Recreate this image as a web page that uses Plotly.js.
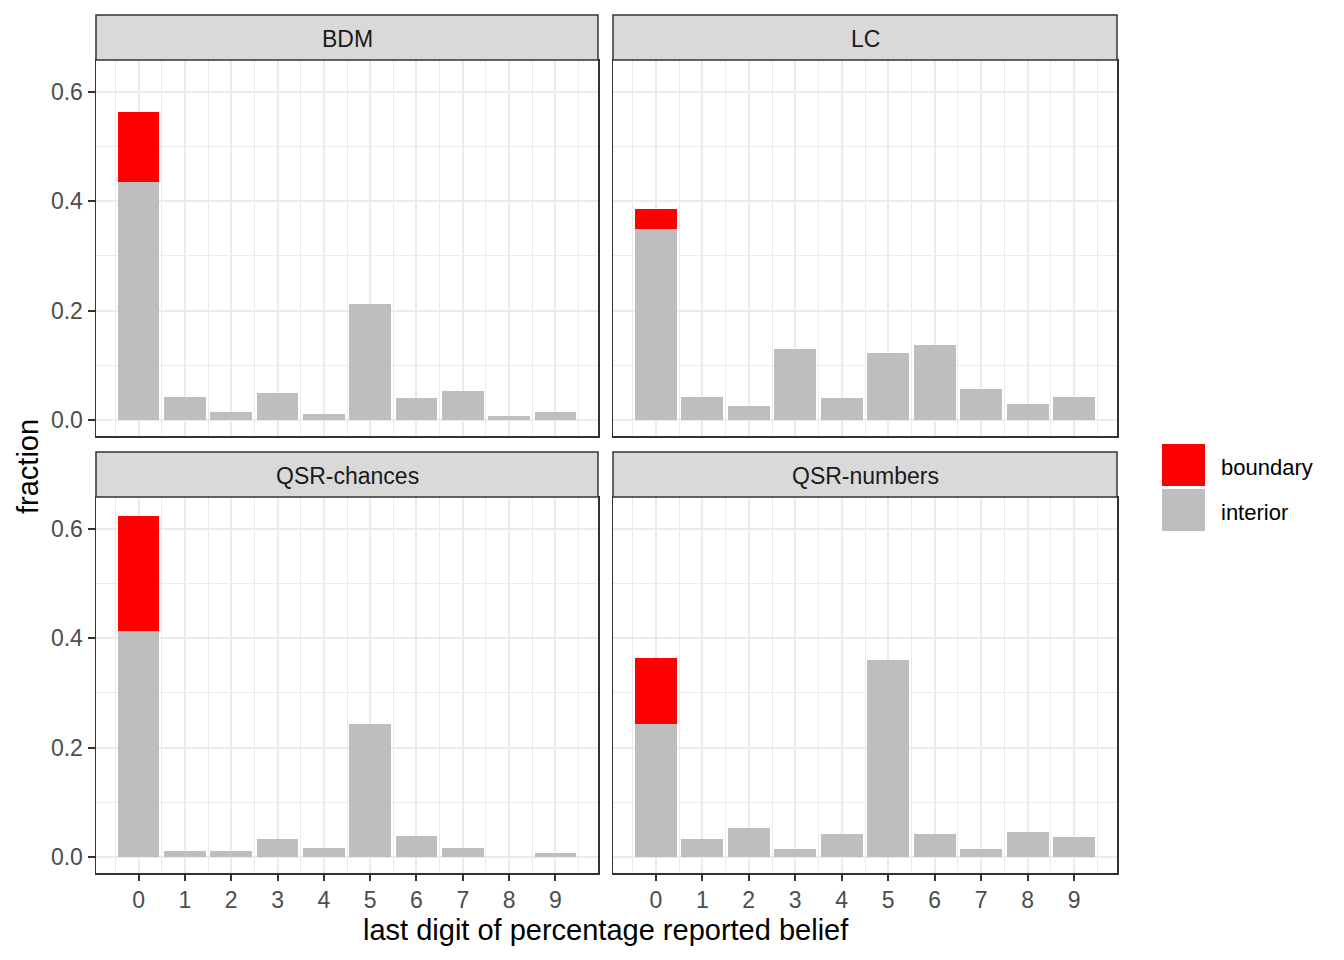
<!DOCTYPE html>
<html>
<head>
<meta charset="utf-8">
<script src="https://cdn.plot.ly/plotly-3.0.1.min.js"></script>
<style>html,body{margin:0;padding:0;background:#fff;}#chart{width:1344px;height:960px;}</style>
</head>
<body>
<div id="chart"></div>
<script>
const digits = [0, 1, 2, 3, 4, 5, 6, 7, 8, 9];
const facetNames = ['BDM', 'LC', 'QSR-chances', 'QSR-numbers'];
const seriesNames = ['boundary', 'interior'];

const interiorBDM = [0.435, 0.0415, 0.014, 0.049, 0.0104, 0.2116, 0.0397, 0.0525, 0.0068, 0.014];
const boundaryBDM = [0.128, 0, 0, 0, 0, 0, 0, 0, 0, 0];

const interiorLC = [0.349, 0.0415, 0.025, 0.129, 0.0397, 0.122, 0.1366, 0.056, 0.0287, 0.0415];
const boundaryLC = [0.036, 0, 0, 0, 0, 0, 0, 0, 0, 0];

const interiorQSRchances = [0.413, 0.010, 0.010, 0.032, 0.017, 0.2436, 0.039, 0.017, 0, 0.0064];
const boundaryQSRchances = [0.210, 0, 0, 0, 0, 0, 0, 0, 0, 0];

const interiorQSRnumbers = [0.2436, 0.032, 0.052, 0.0137, 0.041, 0.3604, 0.041, 0.0137, 0.0447, 0.0356];
const boundaryQSRnumbers = [0.1205, 0, 0, 0, 0, 0, 0, 0, 0, 0];

const yTickVals = [0, 0.2, 0.4, 0.6];

const interiorAll = [interiorBDM, interiorLC, interiorQSRchances, interiorQSRnumbers];
const boundaryAll = [boundaryBDM, boundaryLC, boundaryQSRchances, boundaryQSRnumbers];

const W = 1344, H = 960;
const FONT = 'Liberation Sans, Arial, sans-serif';
const colInterior = '#BEBEBE';
const colBoundary = '#FF0000';

// panel pixel boxes: [left, right, top, bottom]
const panels = [
  [96, 598, 60, 436],
  [613, 1117, 60, 436],
  [96, 598, 497, 873],
  [613, 1117, 497, 873]
];
const stripH = 45;

const axIds = ['', '2', '3', '4'];
const traces = [];
for (let i = 0; i < 4; i++) {
  traces.push({
    type: 'bar', x: digits, y: interiorAll[i], width: 0.9,
    xaxis: 'x' + axIds[i], yaxis: 'y' + axIds[i],
    marker: {color: colInterior, line: {width: 0}},
    name: seriesNames[1], showlegend: false, hoverinfo: 'skip'
  });
  traces.push({
    type: 'bar', x: digits, y: boundaryAll[i], width: 0.9,
    xaxis: 'x' + axIds[i], yaxis: 'y' + axIds[i],
    marker: {color: colBoundary, line: {width: 0}},
    name: seriesNames[0], showlegend: false, hoverinfo: 'skip'
  });
}

const yRange = [-0.0295, 0.6585];

const layout = {
  width: W, height: H,
  margin: {l: 0, r: 0, t: 0, b: 0, autoexpand: false},
  paper_bgcolor: '#FFFFFF', plot_bgcolor: '#FFFFFF',
  barmode: 'stack', bargap: 0,
  showlegend: false,
  font: {family: FONT, size: 23, color: '#4D4D4D'},
  shapes: [], annotations: []
};

for (let i = 0; i < 4; i++) {
  const [l, r, t, b] = panels[i];
  const isBottom = i >= 2, isLeft = (i % 2 === 0);
  const xa = 'xaxis' + axIds[i], ya = 'yaxis' + axIds[i];
  layout[xa] = {
    domain: [l / W, r / W], anchor: 'y' + axIds[i],
    range: [-0.92, 9.92], tickmode: 'linear', tick0: 0, dtick: 1,
    showticklabels: isBottom, ticks: isBottom ? 'outside' : '',
    ticklen: 6, tickwidth: 2, tickcolor: '#333333',
    tickfont: {family: FONT, size: 23, color: '#4D4D4D'},
    showgrid: true, gridcolor: '#EBEBEB', gridwidth: 2,
    minor: {dtick: 0.5, tick0: 0, showgrid: true, gridcolor: '#EBEBEB', gridwidth: 1},
    showline: true, mirror: true, linecolor: '#333333', linewidth: 1.5,
    zeroline: false, automargin: false, fixedrange: true
  };
  layout[ya] = {
    domain: [1 - b / H, 1 - t / H], anchor: 'x' + axIds[i],
    range: yRange, tickmode: 'array', tickvals: yTickVals,
    ticktext: yTickVals.map(v => v.toFixed(1)),
    showticklabels: isLeft, ticks: isLeft ? 'outside' : '',
    ticklen: 7, tickwidth: 2, tickcolor: '#333333',
    tickfont: {family: FONT, size: 23, color: '#4D4D4D'},
    showgrid: true, gridcolor: '#EBEBEB', gridwidth: 2,
    minor: {dtick: 0.1, tick0: 0, showgrid: true, gridcolor: '#EBEBEB', gridwidth: 1},
    showline: true, mirror: true, linecolor: '#333333', linewidth: 1.5,
    zeroline: false, automargin: false, fixedrange: true
  };
  // strip
  layout.shapes.push({
    type: 'rect', xref: 'paper', yref: 'paper',
    x0: l / W, x1: r / W, y0: 1 - t / H, y1: 1 - (t - stripH) / H,
    fillcolor: '#D9D9D9', line: {color: '#333333', width: 1.5}, layer: 'above'
  });
  layout.annotations.push({
    xref: 'paper', yref: 'paper', x: (l + r) / 2 / W, y: 1 - (t - stripH / 2 + 1.5) / H,
    text: facetNames[i], showarrow: false, xanchor: 'center', yanchor: 'middle',
    font: {family: FONT, size: 23, color: '#1A1A1A'}
  });
}

// axis titles
layout.annotations.push({
  xref: 'paper', yref: 'paper', x: 606 / W, y: 1 - 930 / H,
  text: 'last digit of percentage reported belief', showarrow: false,
  xanchor: 'center', yanchor: 'middle', font: {family: FONT, size: 29, color: '#000000'}
});
layout.annotations.push({
  xref: 'paper', yref: 'paper', x: 28 / W, y: 1 - 467 / H,
  text: 'fraction', showarrow: false, textangle: -90,
  xanchor: 'center', yanchor: 'middle', font: {family: FONT, size: 29, color: '#000000'}
});

// legend keys
const legendCols = [colBoundary, colInterior];
const legendTops = [444, 489];
for (let k = 0; k < 2; k++) {
  const top = legendTops[k];
  layout.shapes.push({
    type: 'rect', xref: 'paper', yref: 'paper',
    x0: 1162 / W, x1: 1205 / W, y0: 1 - (top + 42) / H, y1: 1 - top / H,
    fillcolor: legendCols[k], line: {width: 0}
  });
  layout.annotations.push({
    xref: 'paper', yref: 'paper', x: 1219 / W, y: 1 - (top + 23) / H,
    text: seriesNames[k], showarrow: false, xanchor: 'left', yanchor: 'middle',
    font: {family: FONT, size: 22, color: '#000000'}
  });
}

Plotly.newPlot('chart', traces, layout, {staticPlot: true, displayModeBar: false});
</script>
</body>
</html>
